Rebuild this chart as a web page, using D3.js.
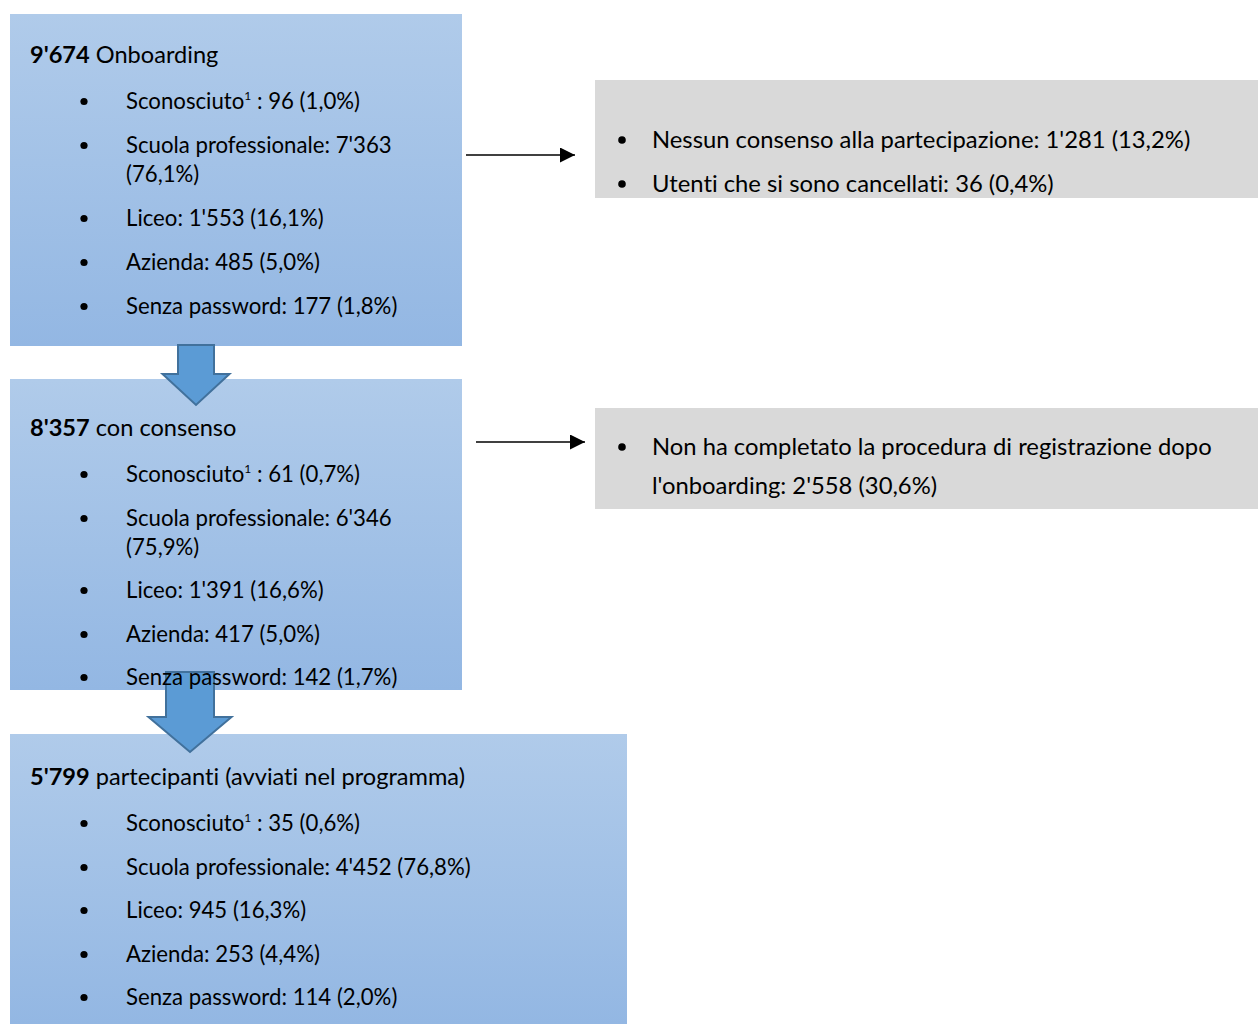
<!DOCTYPE html>
<html><head><meta charset="utf-8">
<script src="https://cdn.jsdelivr.net/npm/d3@7"></script>
<style>html,body{margin:0;padding:0;background:#fff;}svg{display:block;}text{font-variant-ligatures:none;}</style>
</head><body>
<svg id="chart" width="1258" height="1024"></svg>
<script>
// ---- data ----
const stageCounts = ["9'674", "8'357", "5'799"];
const stageLabels = ["Onboarding", "con consenso", "partecipanti (avviati nel programma)"];
const categories = ["Sconosciuto", "Scuola professionale", "Liceo", "Azienda", "Senza password"];
const stage1Values = ["96 (1,0%)", "7'363 (76,1%)", "1'553 (16,1%)", "485 (5,0%)", "177 (1,8%)"];
const stage2Values = ["61 (0,7%)", "6'346 (75,9%)", "1'391 (16,6%)", "417 (5,0%)", "142 (1,7%)"];
const stage3Values = ["35 (0,6%)", "4'452 (76,8%)", "945 (16,3%)", "253 (4,4%)", "114 (2,0%)"];
const dropout1 = ["Nessun consenso alla partecipazione: 1'281 (13,2%)", "Utenti che si sono cancellati: 36 (0,4%)"];
const dropout2 = ["Non ha completato la procedura di registrazione dopo l'onboarding: 2'558 (30,6%)"];

// ---- layout ----
const FONT = "Lato, 'Open Sans', sans-serif";
const FS = 22.2, FS_TITLE = 23.6, FS_GREY = 23.8;
const svg = d3.select("#chart");
const defs = svg.append("defs");
const grad = defs.append("linearGradient").attr("id","blueGrad").attr("x1",0).attr("y1",0).attr("x2",0).attr("y2",1);
grad.append("stop").attr("offset","0%").attr("stop-color","#b0cbea");
grad.append("stop").attr("offset","100%").attr("stop-color","#93b7e3");
defs.append("marker").attr("id","arrowHead").attr("viewBox","0 0 10 10").attr("refX",10).attr("refY",5)
  .attr("markerWidth",15).attr("markerHeight",15).attr("markerUnits","userSpaceOnUse").attr("orient","auto")
  .append("path").attr("d","M0,0 L10,5 L0,10 Z").attr("fill","#000");

const stageValues = [stage1Values, stage2Values, stage3Values];
const stageGeom = [
  {x:10, y:14, w:452, h:332, titleY:63, itemY:[109,153,226,270,314]},
  {x:10, y:379, w:452, h:311, titleY:436, itemY:[482,526,598,642,685]},
  {x:10, y:734, w:617, h:290, titleY:785, itemY:[831,875,918,962,1005]}
];
const stages = stageGeom.map((g,i)=>Object.assign({count:stageCounts[i], label:stageLabels[i], values:stageValues[i]}, g));
const bulletX = 84, textX = 126, wrapLH = 29;

// boxes
svg.selectAll("rect.stage").data(stages).join("rect").attr("class","stage")
  .attr("x",d=>d.x).attr("y",d=>d.y).attr("width",d=>d.w).attr("height",d=>d.h)
  .attr("fill","url(#blueGrad)");

// down arrows
const downArrows = [
  {cx:196, top:345, headTop:374, bottom:405, shaftW:36, headW:67},
  {cx:190, top:672, headTop:717, bottom:752, shaftW:48, headW:83}
];
svg.selectAll("path.down").data(downArrows).join("path").attr("class","down")
  .attr("d",a=>{
    const s=a.shaftW/2, h=a.headW/2;
    return `M${a.cx-s},${a.top} L${a.cx+s},${a.top} L${a.cx+s},${a.headTop} L${a.cx+h},${a.headTop} L${a.cx},${a.bottom} L${a.cx-h},${a.headTop} L${a.cx-s},${a.headTop} Z`;
  })
  .attr("fill","#5b9bd5").attr("stroke","#41719c").attr("stroke-width",2).attr("stroke-linejoin","miter");

// grey boxes
const greyGeom = [
  {x:595, y:80, w:663, h:118, itemY:[148,192], lh:39},
  {x:595, y:408, w:663, h:101, itemY:[455], lh:39}
];
const greyBoxes = greyGeom.map((g,i)=>Object.assign({lines:[dropout1, dropout2][i]}, g));
svg.selectAll("rect.grey").data(greyBoxes).join("rect").attr("class","grey")
  .attr("x",d=>d.x).attr("y",d=>d.y).attr("width",d=>d.w).attr("height",d=>d.h).attr("fill","#d9d9d9");

// side arrows
const sideArrows = [{x1:466, x2:575, y:155}, {x1:476, x2:585, y:442}];
svg.selectAll("line.side").data(sideArrows).join("line").attr("class","side")
  .attr("x1",d=>d.x1).attr("x2",d=>d.x2).attr("y1",d=>d.y).attr("y2",d=>d.y)
  .attr("stroke","#000").attr("stroke-width",1.5).attr("marker-end","url(#arrowHead)");

function wrapText(textSel, str, x, y, maxW, lh){
  const words = str.split(" ");
  let line = [], tspan = textSel.append("tspan").attr("x",x).attr("y",y), n=0;
  words.forEach(w=>{
    line.push(w);
    tspan.text(line.join(" "));
    if (tspan.node().getComputedTextLength() > maxW && line.length>1){
      line.pop(); tspan.text(line.join(" "));
      line=[w]; n++;
      tspan = textSel.append("tspan").attr("x",x).attr("y",y+n*lh).text(w);
    }
  });
}

// stage texts
stages.forEach(st=>{
  const g = svg.append("g").attr("font-family",FONT).attr("font-size",FS).attr("fill","#000");
  const t = g.append("text").attr("x",30).attr("y",st.titleY).attr("font-size",FS_TITLE);
  t.append("tspan").attr("font-weight","bold").text(st.count);
  t.append("tspan").text(" " + st.label);
  categories.forEach((c,i)=>{
    g.append("circle").attr("cx",bulletX).attr("cy",st.itemY[i]-7.5).attr("r",3.6).attr("fill","#000");
    const tx = g.append("text");
    if (i===0){
      tx.attr("x",textX).attr("y",st.itemY[i]);
      tx.append("tspan").text(c);
      tx.append("tspan").attr("font-size",12).attr("dy",-9).text("1");
      tx.append("tspan").attr("dy",9).text(" : "+st.values[i]);
    } else {
      wrapText(tx, c+": "+st.values[i], textX, st.itemY[i], st.x+st.w-textX-18, wrapLH);
    }
  });
});

// grey box texts
greyBoxes.forEach(b=>{
  const g = svg.append("g").attr("font-family",FONT).attr("font-size",FS_GREY).attr("fill","#000");
  b.lines.forEach((l,i)=>{
    g.append("circle").attr("cx",622).attr("cy",b.itemY[i]-8).attr("r",3.8).attr("fill","#000");
    wrapText(g.append("text"), l, 652, b.itemY[i], b.x+b.w-652-20, b.lh);
  });
});
</script>
</body></html>
